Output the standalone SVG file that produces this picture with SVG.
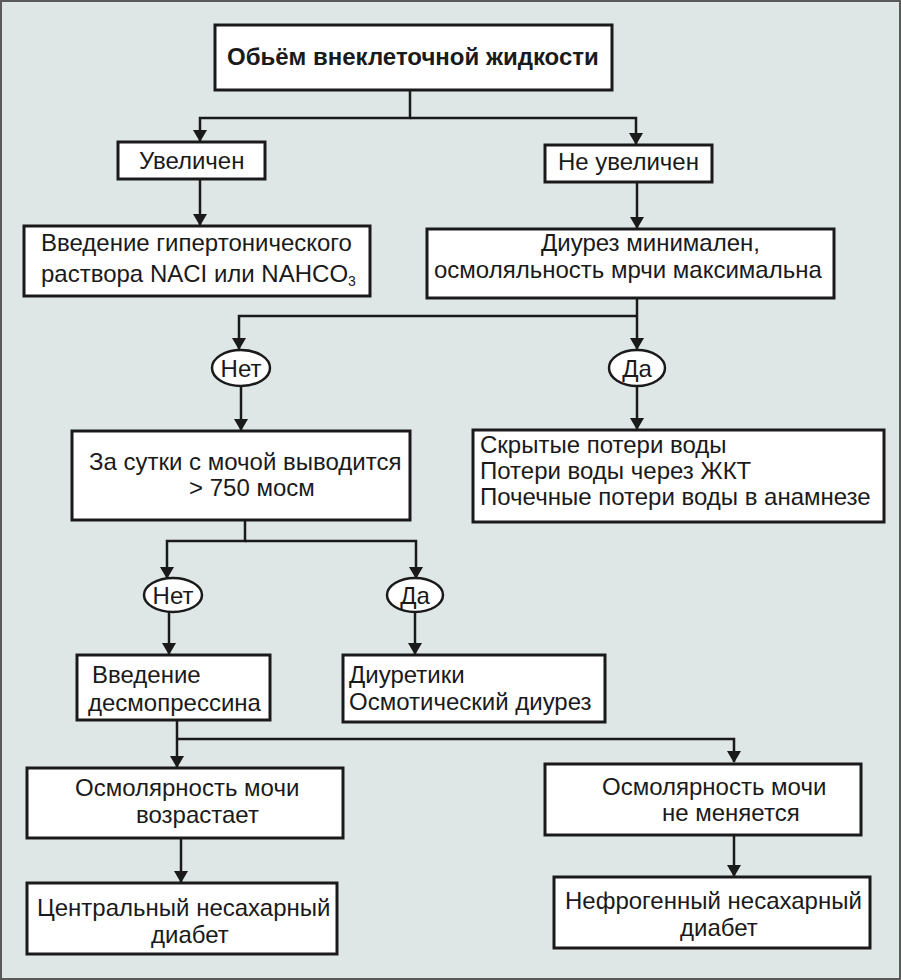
<svg xmlns="http://www.w3.org/2000/svg" width="901" height="980" viewBox="0 0 901 980">
<defs>
<style>
.bg{fill:#dfe7e6;stroke:#5a5a5a;stroke-width:2}
.box{fill:#ffffff;stroke:#1a1a1a;stroke-width:3}
.ell{fill:#ffffff;stroke:#1a1a1a;stroke-width:2.5}
.t{font-family:"Liberation Sans",Arial,sans-serif;font-size:24px;fill:#1a1a1a}
.tb{font-family:"Liberation Sans",Arial,sans-serif;font-size:24px;font-weight:bold;fill:#1a1a1a}
.c{fill:none;stroke:#1a1a1a;stroke-width:2.5}
</style>
<marker id="ah" viewBox="0 0 12 14" refX="11" refY="7" markerWidth="12" markerHeight="14" markerUnits="userSpaceOnUse" orient="auto">
<path d="M0,0 L12,7 L0,14 Z" fill="#1a1a1a"/>
</marker>
</defs>
<rect class="bg" x="1" y="1" width="899" height="978"/>
<g id="connectors">
<path class="c" d="M410,90 V118 H200 V141" marker-end="url(#ah)"/>
<path class="c" d="M410,118 H636 V144" marker-end="url(#ah)"/>
<path class="c" d="M200,179 V225" marker-end="url(#ah)"/>
<path class="c" d="M637,182 V228" marker-end="url(#ah)"/>
<path class="c" d="M637,298 V349" marker-end="url(#ah)"/>
<path class="c" d="M637,316 H239 V349" marker-end="url(#ah)"/>
<path class="c" d="M241,386 V430" marker-end="url(#ah)"/>
<path class="c" d="M637,386 V429" marker-end="url(#ah)"/>
<path class="c" d="M245,520 V541 H167 V578" marker-end="url(#ah)"/>
<path class="c" d="M245,541 H416 V578" marker-end="url(#ah)"/>
<path class="c" d="M169,612 V654" marker-end="url(#ah)"/>
<path class="c" d="M415,612 V654" marker-end="url(#ah)"/>
<path class="c" d="M177,720 V767" marker-end="url(#ah)"/>
<path class="c" d="M177,739 H734 V762" marker-end="url(#ah)"/>
<path class="c" d="M181,838 V882" marker-end="url(#ah)"/>
<path class="c" d="M734,835 V876" marker-end="url(#ah)"/>
</g>
<g id="n-title">
<rect class="box" x="215" y="25" width="397" height="65"/>
<text class="tb" x="227" y="65">Обьём внеклеточной жидкости</text>
</g>
<g id="n-uvel">
<rect class="box" x="118" y="142" width="147" height="37"/>
<text class="t" x="139" y="169">Увеличен</text>
</g>
<g id="n-neuvel">
<rect class="box" x="545" y="145" width="167" height="37"/>
<text class="t" x="558" y="170">Не увеличен</text>
</g>
<g id="n-vved-gip">
<rect class="box" x="24" y="226" width="346" height="70"/>
<text class="t" x="41" y="251">Введение гипертонического</text>
<text class="t" x="41" y="282">раствора NACI или NAHCO<tspan font-size="14" dy="4">3</tspan></text>
</g>
<g id="n-diurez">
<rect class="box" x="427" y="229" width="407" height="69"/>
<text class="t" x="541" y="251">Диурез минимален,</text>
<text class="t" x="434" y="278">осмоляльность мрчи максимальна</text>
</g>
<g id="n-net1">
<ellipse class="ell" cx="241" cy="368" rx="29" ry="18"/>
<text class="t" x="241" y="376.5" text-anchor="middle">Нет</text>
</g>
<g id="n-da1">
<ellipse class="ell" cx="637" cy="368" rx="28" ry="18"/>
<text class="t" x="637" y="376.5" text-anchor="middle">Да</text>
</g>
<g id="n-sutki">
<rect class="box" x="72" y="431" width="338" height="89"/>
<text class="t" x="89" y="470">За сутки с мочой выводится</text>
<text class="t" x="189" y="496">&gt; 750 мосм</text>
</g>
<g id="n-skryt">
<rect class="box" x="473" y="430" width="411" height="92"/>
<text class="t" x="480" y="453">Скрытые потери воды</text>
<text class="t" x="480" y="479">Потери воды через ЖКТ</text>
<text class="t" x="480" y="505">Почечные потери воды в анамнезе</text>
</g>
<g id="n-net2">
<ellipse class="ell" cx="173" cy="595" rx="29" ry="17"/>
<text class="t" x="173" y="603.5" text-anchor="middle">Нет</text>
</g>
<g id="n-da2">
<ellipse class="ell" cx="415" cy="595" rx="28" ry="17"/>
<text class="t" x="415" y="603.5" text-anchor="middle">Да</text>
</g>
<g id="n-desmo">
<rect class="box" x="77" y="655" width="193" height="65"/>
<text class="t" x="92" y="683">Введение</text>
<text class="t" x="88" y="711">десмопрессина</text>
</g>
<g id="n-diuret">
<rect class="box" x="343" y="655" width="262" height="67"/>
<text class="t" x="349" y="683">Диуретики</text>
<text class="t" x="349" y="710">Осмотический диурез</text>
</g>
<g id="n-osm-up">
<rect class="box" x="27" y="768" width="316" height="70"/>
<text class="t" x="75" y="796">Осмолярность мочи</text>
<text class="t" x="136" y="823">возрастает</text>
</g>
<g id="n-osm-same">
<rect class="box" x="545" y="764" width="316" height="71"/>
<text class="t" x="602" y="795">Осмолярность мочи</text>
<text class="t" x="662" y="821">не меняется</text>
</g>
<g id="n-central">
<rect class="box" x="27" y="883" width="310" height="71"/>
<text class="t" x="37" y="916">Центральный несахарный</text>
<text class="t" x="151" y="943">диабет</text>
</g>
<g id="n-nefro">
<rect class="box" x="554" y="877" width="316" height="71"/>
<text class="t" x="565" y="909">Нефрогенный несахарный</text>
<text class="t" x="680" y="936">диабет</text>
</g>
</svg>
